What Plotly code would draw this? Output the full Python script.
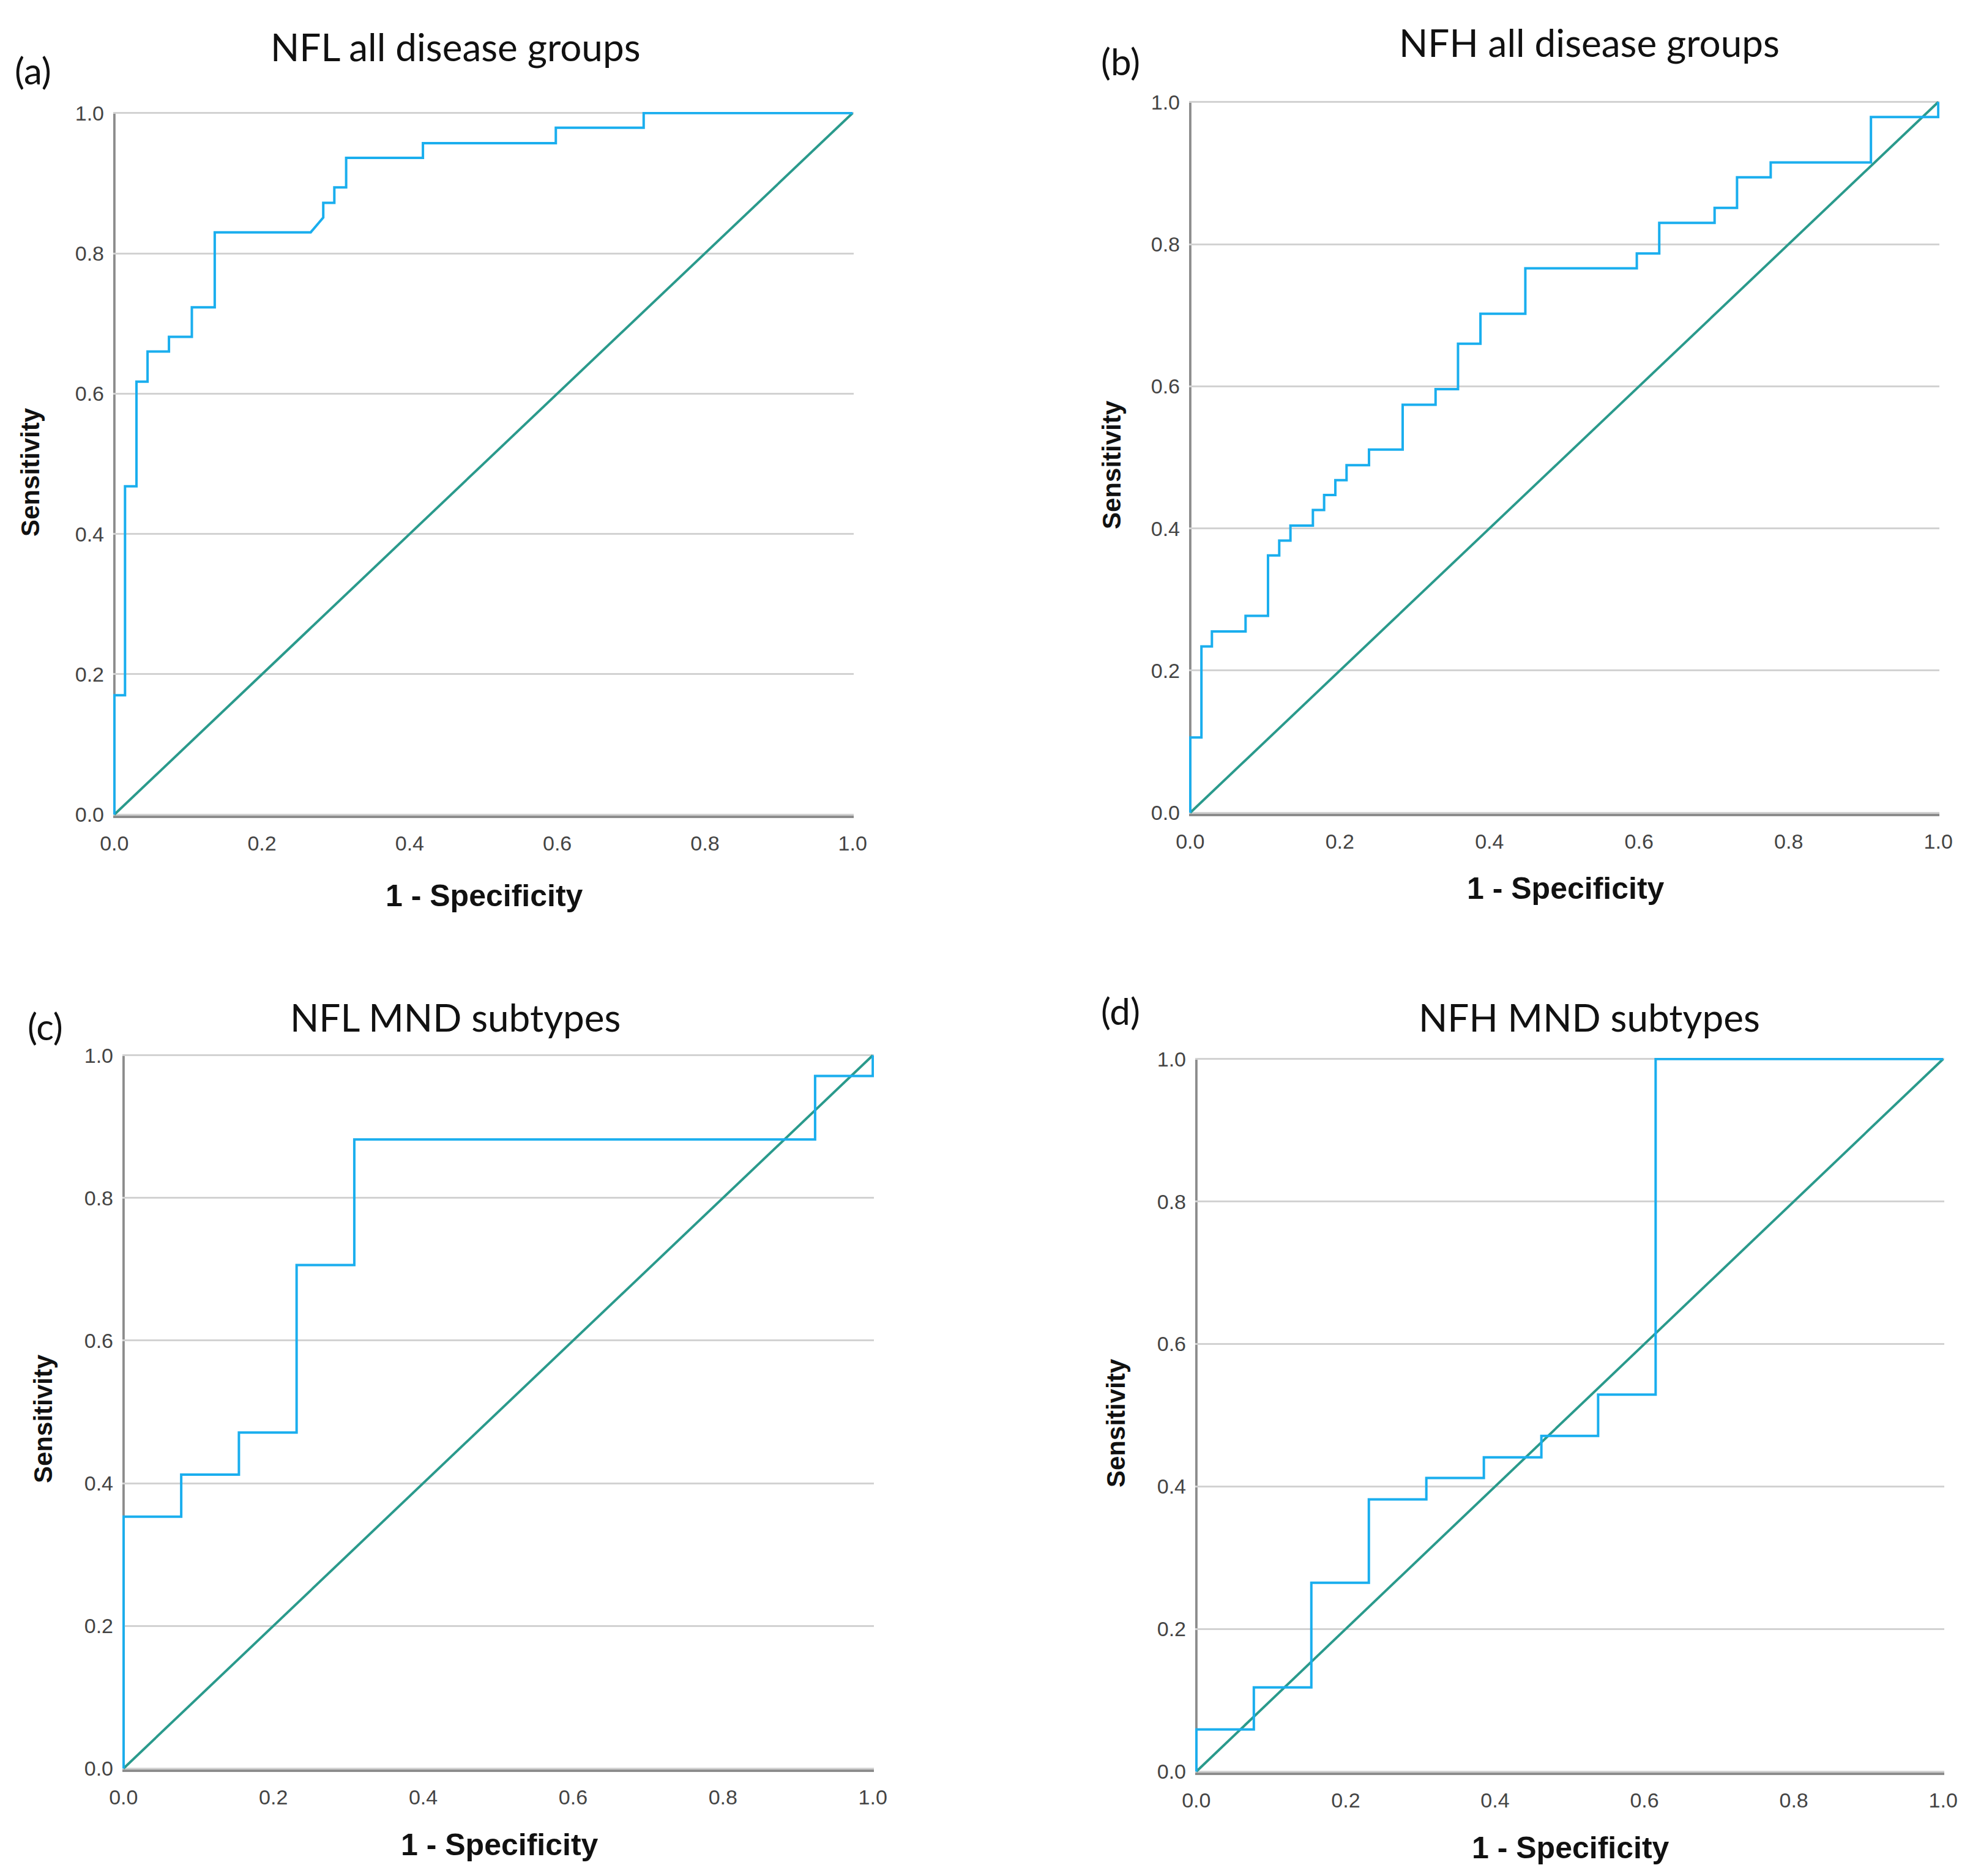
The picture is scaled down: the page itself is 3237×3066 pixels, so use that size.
import plotly.graph_objects as go

W, H = 3237, 3066

# ---- data: ROC vertices (1 - specificity, sensitivity) ----
titles = ["NFL all disease groups", "NFH all disease groups", "NFL MND subtypes", "NFH MND subtypes"]
letters = ["(a)", "(b)", "(c)", "(d)"]

fpr_a = [0, 0, 0.0145, 0.0145, 0.030, 0.030, 0.045, 0.045, 0.074, 0.074, 0.105, 0.105, 0.136, 0.136,
         0.266, 0.283, 0.283, 0.298, 0.298, 0.314, 0.314, 0.418, 0.418, 0.598, 0.598, 0.717, 0.717, 1.0]
tpr_a = [0, 0.170, 0.170, 0.468, 0.468, 0.617, 0.617, 0.660, 0.660, 0.681, 0.681, 0.723, 0.723, 0.830,
         0.830, 0.851, 0.872, 0.872, 0.894, 0.894, 0.936, 0.936, 0.957, 0.957, 0.979, 0.979, 1.0, 1.0]

fpr_b = [0, 0, 0.015, 0.015, 0.029, 0.029, 0.074, 0.074, 0.104, 0.104, 0.119, 0.119, 0.134, 0.134,
         0.164, 0.164, 0.179, 0.179, 0.194, 0.194, 0.209, 0.209, 0.239, 0.239, 0.284, 0.284, 0.328, 0.328,
         0.358, 0.358, 0.388, 0.388, 0.448, 0.448, 0.597, 0.597, 0.627, 0.627, 0.701, 0.701, 0.731, 0.731,
         0.776, 0.776, 0.910, 0.910, 1.0, 1.0]
tpr_b = [0, 0.106, 0.106, 0.234, 0.234, 0.255, 0.255, 0.277, 0.277, 0.362, 0.362, 0.383, 0.383, 0.404,
         0.404, 0.426, 0.426, 0.447, 0.447, 0.468, 0.468, 0.489, 0.489, 0.511, 0.511, 0.574, 0.574, 0.596,
         0.596, 0.660, 0.660, 0.702, 0.702, 0.766, 0.766, 0.787, 0.787, 0.830, 0.830, 0.851, 0.851, 0.894,
         0.894, 0.915, 0.915, 0.979, 0.979, 1.0]

fpr_c = [0, 0, 0.077, 0.077, 0.154, 0.154, 0.231, 0.231, 0.308, 0.308, 0.923, 0.923, 1.0, 1.0]
tpr_c = [0, 0.353, 0.353, 0.412, 0.412, 0.471, 0.471, 0.706, 0.706, 0.882, 0.882, 0.971, 0.971, 1.0]

fpr_d = [0, 0, 0.077, 0.077, 0.154, 0.154, 0.231, 0.231, 0.308, 0.308, 0.385, 0.385, 0.462, 0.462,
         0.538, 0.538, 0.615, 0.615, 1.0]
tpr_d = [0, 0.059, 0.059, 0.118, 0.118, 0.265, 0.265, 0.382, 0.382, 0.412, 0.412, 0.441, 0.441, 0.471,
         0.471, 0.529, 0.529, 1.0, 1.0]

ref_line = [0.0, 1.0]
tick_vals = [0.0, 0.2, 0.4, 0.6, 0.8, 1.0]
tick_text = ["0.0", "0.2", "0.4", "0.6", "0.8", "1.0"]
x_title = "1 - Specificity"
y_title = "Sensitivity"

curves = [(fpr_a, tpr_a), (fpr_b, tpr_b), (fpr_c, tpr_c), (fpr_d, tpr_d)]

# ---- layout (pixel boxes of each plot area: left, right, top, bottom) ----
boxes = [(185, 1395, 183, 1333), (1943, 3169, 165, 1330), (200, 1428, 1723, 2892), (1953, 3177, 1729, 2897)]
title_pos = [(744, 76), (2597, 69), (744, 1662), (2597, 1662)]
letter_pos = [(54, 115), (1831, 100), (74, 1677), (1831, 1652)]
ytitle_pos = [(49, 772), (1816, 760), (70, 2319), (1823, 2326)]
xtitle_pos = [(791, 1464), (2558, 1452), (816, 3015), (2566, 3020)]

ROC = "#1aaeee"
REF = "#2a9a8c"
GRID = "#d2d2d2"
AXIS = "#8c8c8c"

fig = go.Figure()
annotations = []
shapes = []


def px(x):
    return x / W


def py(y):
    return 1 - y / H


for i, ((fx, ty), (l, r, t, b)) in enumerate(zip(curves, boxes)):
    n = "" if i == 0 else str(i + 1)
    xa, ya = "x" + n, "y" + n
    fig.add_trace(go.Scatter(x=ref_line, y=ref_line, mode="lines", xaxis=xa, yaxis=ya,
                             line=dict(color=REF, width=4), showlegend=False, hoverinfo="skip"))
    fig.add_trace(go.Scatter(x=fx, y=ty, mode="lines", xaxis=xa, yaxis=ya,
                             line=dict(color=ROC, width=4), showlegend=False))
    common = dict(range=[-0.0015, 1.0015], tickvals=tick_vals, ticktext=tick_text,
                  linecolor=AXIS, linewidth=4, zeroline=False, ticks="", automargin=False,
                  tickfont=dict(family="Liberation Sans, Arial", size=34, color="#444444"))
    fig.layout["xaxis" + n] = dict(common, domain=[px(l), px(r)], anchor=ya, showgrid=False,
                                   showline=True, ticklabelstandoff=12)
    fig.layout["yaxis" + n] = dict(common, domain=[py(b), py(t)], anchor=xa, showgrid=True,
                                   showline=False, gridcolor=GRID, gridwidth=3, ticklabelstandoff=14)
    # vertical axis line drawn at x = 0 beneath the curves (as in SPSS output)
    shapes.append(dict(type="line", xref=xa, yref=ya + " domain", x0=0, x1=0, y0=0, y1=1,
                       line=dict(color=AXIS, width=4), layer="below"))
    tx, tyy = title_pos[i]
    annotations.append(dict(x=px(tx), y=py(tyy), xref="paper", yref="paper", text=titles[i],
                            showarrow=False, xanchor="center", yanchor="middle",
                            font=dict(family="Lato, Carlito, Calibri", size=62, color="#111111")))
    lx, ly = letter_pos[i]
    annotations.append(dict(x=px(lx), y=py(ly), xref="paper", yref="paper", text=letters[i],
                            showarrow=False, xanchor="center", yanchor="middle",
                            font=dict(family="Lato, Carlito, Calibri", size=60, color="#111111")))
    yx, yy = ytitle_pos[i]
    annotations.append(dict(x=px(yx), y=py(yy), xref="paper", yref="paper", text="<b>" + y_title + "</b>",
                            showarrow=False, xanchor="center", yanchor="middle", textangle=-90,
                            font=dict(family="Liberation Sans, Arial", size=42, color="#111111")))
    xx, xy = xtitle_pos[i]
    annotations.append(dict(x=px(xx), y=py(xy), xref="paper", yref="paper", text="<b>" + x_title + "</b>",
                            showarrow=False, xanchor="center", yanchor="middle",
                            font=dict(family="Liberation Sans, Arial", size=50, color="#111111")))

fig.update_layout(width=W, height=H, margin=dict(l=0, r=0, t=0, b=0),
                  paper_bgcolor="white", plot_bgcolor="white", annotations=annotations, shapes=shapes)

fig.write_html("out.html", config={"displayModeBar": False},
               post_script="document.body.style.margin='0';document.body.style.padding='0';"
                           "document.documentElement.style.overflow='hidden';")
